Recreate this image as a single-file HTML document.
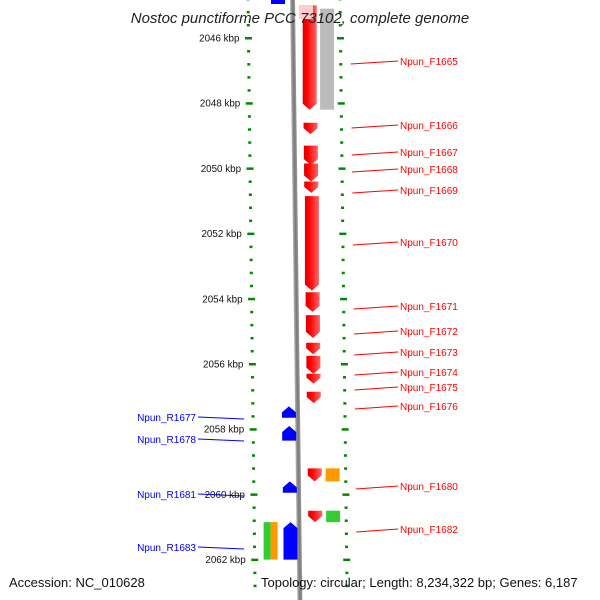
<!DOCTYPE html>
<html><head><meta charset="utf-8"><style>
html,body{margin:0;padding:0;background:#fff}
svg{display:block;font-family:"Liberation Sans",sans-serif}
</style></head><body>
<svg id="c" width="600" height="600" viewBox="0 0 600 600">
<defs>
<linearGradient id="bb" x1="0" x2="1"><stop offset="0" stop-color="#bbb"/><stop offset="0.5" stop-color="#777"/><stop offset="1" stop-color="#999"/></linearGradient>
<linearGradient id="gr" x1="0" x2="1"><stop offset="0" stop-color="#d00"/><stop offset="0.3" stop-color="#f00"/><stop offset="1" stop-color="#f66"/></linearGradient>
</defs>
<g id="ticks"></g><g id="feat"></g><g id="labs"></g>
<text x="300" y="23" text-anchor="middle" font-size="15" font-style="italic" fill="#222">Nostoc punctiforme PCC 73102, complete genome</text>
<text x="9" y="587" font-size="13" fill="#111">Accession: NC_010628</text>
<text x="261" y="587" font-size="13" fill="#111">Topology: circular; Length: 8,234,322 bp; Genes: 6,187</text>
</svg>
<script>
const fwdNames=["Npun_F1665","Npun_F1666","Npun_F1667","Npun_F1668","Npun_F1669","Npun_F1670","Npun_F1671","Npun_F1672","Npun_F1673","Npun_F1674","Npun_F1675","Npun_F1676","Npun_F1680","Npun_F1682"];
const fwdStart=[2045.0,2048.6,2049.3,2049.85,2050.4,2050.85,2053.8,2054.5,2055.35,2055.75,2056.3,2056.85,2059.2,2060.5];
const fwdEnd=[2048.2,2048.95,2049.9,2050.4,2050.75,2053.75,2054.4,2055.2,2055.7,2056.3,2056.6,2057.2,2059.6,2060.85];
const fwdLabelY=[61,125,152,169,190,242,306,331,352,372,387,406,486,529];
const revNames=["Npun_R1677","Npun_R1678","Npun_R1681","Npun_R1683"];
const revStart=[2057.3,2057.9,2059.6,2060.85];
const revEnd=[2057.65,2058.35,2059.95,2062.0];
const revLabelY=[417,439,494,547];
const otherStart=[2045.1,2059.2,2060.5];
const otherEnd=[2048.2,2059.6,2060.85];
const otherColor=["#bbb","#f90","#3c3"];
const tickLabels=[2046,2048,2050,2052,2054,2056,2058,2060,2062];
const NS="http://www.w3.org/2000/svg";
const Y=k=>38+(k-2046)*32.6;
const DX=y=>y*0.012;
function mk(t,a,p){const e=document.createElementNS(NS,t);for(const k in a)e.setAttribute(k,a[k]);document.getElementById(p).appendChild(e);return e;}
let bb=mk("rect",{x:0,y:-5,width:5,height:610,fill:"url(#bb)",transform:"skewX(0.7) translate(290,0)"},"ticks");


for(let k=2044.8;k<=2063.2;k+=0.4){const y=Y(k);const major=Math.abs((k-2046)/2-Math.round((k-2046)/2))<0.01;
const w=major?7:3;
let a=mk("rect",{x:248+DX(y)-w/2,y:y-1,width:w,height:2.5,fill:"#080"},"ticks");


let b=mk("rect",{x:340+DX(y)-w/2,y:y-1,width:w,height:2.5,fill:"#080"},"ticks");

}
tickLabels.forEach(k=>{const y=Y(k);let t=mk("text",{x:239+DX(y),y:y+3.5,"text-anchor":"end","font-size":9.8,fill:"#111"},"labs");t.textContent=k+" kbp";

});
function arrow(y1,y2,x0,w,down,fill){const h=Math.min(6,(y2-y1)*0.6);const d=DX((y1+y2)/2);x0+=d;
let p=down?`M${x0},${y1}L${x0+w},${y1}L${x0+w},${y2-h}L${x0+w/2},${y2}L${x0},${y2-h}Z`:`M${x0},${y2}L${x0+w},${y2}L${x0+w},${y1+h}L${x0+w/2},${y1}L${x0},${y1+h}Z`;
return mk("path",{d:p,fill:fill},"feat");}
fwdNames.forEach((n,i)=>{const y1=Y(fwdStart[i]),y2=Y(fwdEnd[i]);let a=arrow(y1,y2,302,14,true,"url(#gr)");


const ly=fwdLabelY[i];let l=mk("line",{x1:350+DX(ly),y1:ly+3,x2:398,y2:ly,stroke:"#f00","stroke-width":1},"labs");


let t=mk("text",{x:400,y:ly+4,"font-size":10,fill:"#f00"},"labs");t.textContent=n;

});
revNames.forEach((n,i)=>{const y1=Y(revStart[i]),y2=Y(revEnd[i]);let a=arrow(y1,y2,277,14,false,"#00f");


let l=mk("line",{x1:198,y1:revLabelY[i],x2:244,y2:revLabelY[i]+2,stroke:"#00f","stroke-width":1},"labs");


let t=mk("text",{x:196,y:revLabelY[i]+4,"text-anchor":"end","font-size":10,fill:"#00f"},"labs");t.textContent=n;

});
otherStart.forEach((s,i)=>{const y1=Y(s),y2=Y(otherEnd[i]);let r=mk("rect",{x:320+DX(y1),y:y1,width:14,height:y2-y1,fill:otherColor[i]},"feat");

});
let g1=mk("rect",{x:257+DX(550),y:Y(2060.85),width:7,height:Y(2062.0)-Y(2060.85),fill:"#3c3"},"feat");


let o1=mk("rect",{x:264+DX(550),y:Y(2060.85),width:7,height:Y(2062.0)-Y(2060.85),fill:"#f90"},"feat");


let bt=mk("rect",{x:271,y:0,width:14,height:4,fill:"#00f"},"feat");


let pt=mk("rect",{x:299,y:5,width:14,height:14,fill:"#fcc"},"feat");


</script>
</body></html>
